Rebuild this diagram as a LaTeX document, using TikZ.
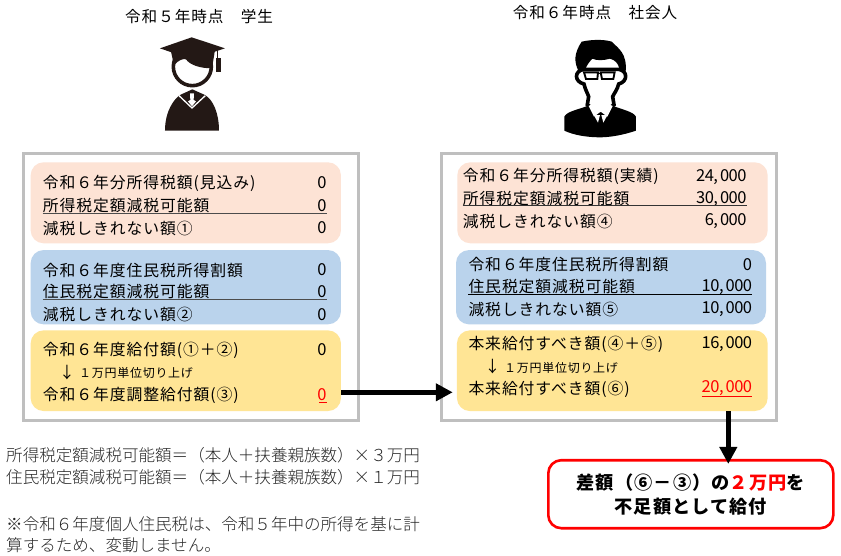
\documentclass[tikz,border=0pt]{standalone}
\usepackage{fontspec}
\setmainfont[LetterSpace=6]{Noto Sans CJK JP}
\newfontfamily\numfont[LetterSpace=-3]{Noto Sans CJK JP}
\newfontfamily\notefont{Noto Sans CJK JP Light}
\usetikzlibrary{arrows.meta}
\definecolor{peachcol}{HTML}{FDE3D5}
\definecolor{bluecol}{HTML}{BAD3EC}
\definecolor{yellowcol}{HTML}{FFE595}
\definecolor{framecol}{HTML}{BFBFBF}
\definecolor{inkcol}{HTML}{231815}
\tikzset{
    framebox/.style={draw=framecol, line width=3pt, fill=white, inner sep=0pt},
    panel/.style={rounded corners=13pt, inner sep=0pt},
    rowtext/.style={anchor=west, inner sep=0pt, font=\fontsize{15.8}{16}\selectfont},
    valtext/.style={anchor=east, inner sep=0pt, font=\fontsize{16.5}{17}\selectfont\numfont},
    smalltext/.style={anchor=west, inner sep=0pt, font=\fontsize{12}{12}\selectfont},
    notetext/.style={anchor=west, inner sep=0pt, text=black!85, font=\fontsize{16.55}{17}\selectfont\notefont},
    headtext/.style={anchor=west, inner sep=0pt, font=\fontsize{15.6}{16}\selectfont},
    rule/.style={line width=0.9pt},
    fatarrow/.style={line width=4.5pt, -{Triangle[length=17pt,width=17pt]}},
}
\begin{document}
\begin{tikzpicture}[x=1pt,y=-1pt]
    \useasboundingbox (0,0) rectangle (841,555);

    % Headings
    \node[headtext] (headL) at (125,16.7) {令和５年時点　学生};
    \node[headtext] (headR) at (512.7,12.3) {令和６年時点　社会人};

    % Student figure
    \begin{scope}[shift={(100,0)}, x=0.3333pt, y=-0.3333pt]
        \fill[inkcol] (195,392) .. controls (195,330) and (225,295) .. (240,285) -- (277,268)
            -- (315,285) .. controls (340,300) and (357,340) .. (357,392) -- cycle;
        \draw[white, line width=1.3pt] (237,287) -- (276,324) -- (316,287);
        \fill[white] (270,280) -- (282,280) -- (281,300) -- (288,304) -- (276,319) -- (264,304) -- (271,300) -- cycle;
        \draw[inkcol, line width=3.6pt] (277,200) circle (57);
        \fill[inkcol] (222,196) .. controls (235,180) and (250,175) .. (258,178)
            .. controls (270,195) and (300,205) .. (336,205) -- (345,150) -- (212,150) -- cycle;
        \fill[inkcol] (180,145) -- (275,112) -- (375,145) -- (275,178) -- cycle;
        \draw[inkcol, line width=0.7pt] (353,150) -- (353,178);
        \fill[inkcol] (347,175) rectangle (362,216);
    \end{scope}

    % Worker figure
    \begin{scope}[shift={(510,0)}, x=0.3333pt, y=-0.3333pt]
        \fill[black] (163,350) .. controls (170,335) and (200,330) .. (232,318) -- (272,350) -- (310,318)
            .. controls (340,330) and (370,335) .. (378,350) -- (378,392)
            .. controls (340,405) and (300,412) .. (270,412) .. controls (230,412) and (190,405) .. (163,392) -- cycle;
        \draw[black, line width=3.6pt, fill=white] (222,208) .. controls (192,212) and (192,245) .. (222,252)
            .. controls (226,270) and (233,280) .. (236,290) -- (232,314) -- (272,344) -- (312,314) -- (308,290)
            .. controls (312,280) and (322,270) .. (326,252) .. controls (354,245) and (354,212) .. (326,208) -- cycle;
        \fill[white] (236,318) -- (252,350) -- (272,335) -- (292,350) -- (308,318) -- (272,300) -- cycle;
        \fill[white] (252,346) -- (264,368) -- (270,345) -- cycle;
        \fill[white] (292,346) -- (280,368) -- (274,345) -- cycle;
        \fill[black] (205,212) .. controls (192,185) and (192,160) .. (215,125)
            .. controls (245,118) and (285,118) .. (305,125) .. controls (325,145) and (352,160) .. (347,215)
            -- (328,206) .. controls (325,190) and (315,180) .. (300,176)
            .. controls (280,182) and (260,182) .. (247,176) .. controls (237,187) and (228,197) .. (226,212) -- cycle;
        \draw[black, line width=1.9pt, fill=white] (222,217) -- (264,217) -- (262,237) -- (228,237) -- cycle;
        \draw[black, line width=1.9pt, fill=white] (272,217) -- (314,217) -- (310,237) -- (276,237) -- cycle;
        \draw[black, line width=1.2pt] (264,221) -- (272,221);
    \end{scope}

    % Frames
    \node[framebox, minimum width=335pt, minimum height=267pt] (frameL) at (190.5,287.2) {};
    \node[framebox, minimum width=335pt, minimum height=267pt] (frameR) at (609.2,287.2) {};

    % Panels, left
    \node[panel, fill=peachcol, minimum width=310.3pt, minimum height=81pt] (peachL) at (185.8,202.8) {};
    \node[panel, fill=bluecol, minimum width=310.3pt, minimum height=74.3pt] (blueL) at (185.8,287.2) {};
    \node[panel, fill=yellowcol, minimum width=310.3pt, minimum height=80.7pt] (yellowL) at (185.8,370.7) {};

    % Panels, right
    \node[panel, fill=peachcol, minimum width=310.4pt, minimum height=81pt] (peachR) at (612.5,202.8) {};
    \node[panel, fill=bluecol, minimum width=310pt, minimum height=74.3pt] (blueR) at (611,287.2) {};
    \node[panel, fill=yellowcol, minimum width=310.7pt, minimum height=80.7pt] (yellowR) at (612.3,370.7) {};

    % Text, left
    \node[rowtext] (incomeL) at (42.7,183) {令和６年分所得税額(見込み)};
    \node[rowtext] (creditL) at (42.7,205.5) {所得税定額減税可能額};
    \node[rowtext] (restL) at (42.7,228) {減税しきれない額①};
    \node[valtext] (incomevalL) at (326.7,183) {0};
    \node[valtext] (creditvalL) at (326.7,205.5) {0};
    \node[valtext] (restvalL) at (326.7,228) {0};
    \node[rowtext] (residentL) at (42.7,270) {令和６年度住民税所得割額};
    \node[rowtext] (rescreditL) at (42.7,292) {住民税定額減税可能額};
    \node[rowtext] (resrestL) at (42.7,314.3) {減税しきれない額②};
    \node[valtext] (residentvalL) at (326.7,270) {0};
    \node[valtext] (rescreditvalL) at (326.7,292) {0};
    \node[valtext] (resrestvalL) at (326.7,314.3) {0};
    \node[rowtext] (payL) at (42.7,350) {令和６年度給付額(①＋②)};
    \node[valtext] (payvalL) at (326.7,350) {0};
    \node[rowtext] (downL) at (59,372.5) {↓};
    \node[smalltext] (roundL) at (79,373) {１万円単位切り上げ};
    \node[rowtext] (adjustL) at (42.7,395) {令和６年度調整給付額(③)};
    \node[valtext, text=red] (adjustvalL) at (326.7,394.5) {0};

    % Text, right
    \node[rowtext] (incomeR) at (462.7,176.7) {令和６年分所得税額(実績)};
    \node[rowtext] (creditR) at (462.7,198.7) {所得税定額減税可能額};
    \node[rowtext] (restR) at (462.7,221) {減税しきれない額④};
    \node[valtext] (incomevalR) at (746.7,176.7) {24,\kern2pt000};
    \node[valtext] (creditvalR) at (746.7,198.7) {30,\kern2pt000};
    \node[valtext] (restvalR) at (746.7,221) {6,\kern2pt000};
    \node[rowtext] (residentR) at (468.3,264.3) {令和６年度住民税所得割額};
    \node[rowtext] (rescreditR) at (468.3,286.7) {住民税定額減税可能額};
    \node[rowtext] (resrestR) at (468.3,309) {減税しきれない額⑤};
    \node[valtext] (residentvalR) at (752.3,264.3) {0};
    \node[valtext] (rescreditvalR) at (752.3,286.7) {10,\kern2pt000};
    \node[valtext] (resrestvalR) at (752.3,309) {10,\kern2pt000};
    \node[rowtext] (payR) at (468.3,344.3) {本来給付すべき額(④＋⑤)};
    \node[valtext] (payvalR) at (752.3,344.3) {16,\kern2pt000};
    \node[rowtext] (downR) at (484.5,367) {↓};
    \node[smalltext] (roundR) at (504,367.7) {１万円単位切り上げ};
    \node[rowtext] (adjustR) at (468.3,389.3) {本来給付すべき額(⑥)};
    \node[valtext, text=red] (adjustvalR) at (752.3,388.5) {20,\kern2pt000};

    % Rules under the credit rows
    \draw[rule, black!70] (creditL.west |- 0,213.3) -- (creditvalL.east |- 0,213.3);
    \draw[rule, black!70, line width=1.1pt] (rescreditL.west |- 0,299.7) -- (rescreditvalL.east |- 0,299.7);
    \draw[red, rule] (319,402) -- (adjustvalL.east |- 0,402);
    \draw[rule, black!80] (creditR.west |- 0,205.7) -- (creditvalR.east |- 0,205.7);
    \draw[rule] (rescreditR.west |- 0,294.3) -- (rescreditvalR.east |- 0,294.3);
    \draw[red, rule] (adjustvalR.west |- 0,396.7) -- (adjustvalR.east |- 0,396.7);

    % Notes
    \node[notetext] (noteA) at (6,455) {所得税定額減税可能額＝（本人＋扶養親族数）×３万円};
    \node[notetext] (noteB) at (6,477.7) {住民税定額減税可能額＝（本人＋扶養親族数）×１万円};
    \node[notetext] (noteC) at (6,524) {※令和６年度個人住民税は、令和５年中の所得を基に計};
    \node[notetext] (noteD) at (6,545) {算するため、変動しません。};

    % Result
    \node[draw=red, line width=2.6pt, rounded corners=13pt, fill=white, minimum width=285pt, minimum height=68pt,
        align=center, inner sep=0pt, font=\fontsize{18.2}{24}\selectfont\bfseries] (result) at (690.8,494.2)
        {差額（⑥－③）の\textcolor{red}{２万円}を\\不足額として給付};

    % Arrows
    \coordinate (outL) at (yellowL.east |- 0,392.3);
    \coordinate (inR) at (yellowR.west |- 0,392.3);
    \coordinate (outR) at (728.3,411);
    \draw[fatarrow] (outL) -- ([xshift=-4pt]inR);
    \draw[fatarrow] (outR) -- ([yshift=-5pt]outR |- result.north);
\end{tikzpicture}
\end{document}
